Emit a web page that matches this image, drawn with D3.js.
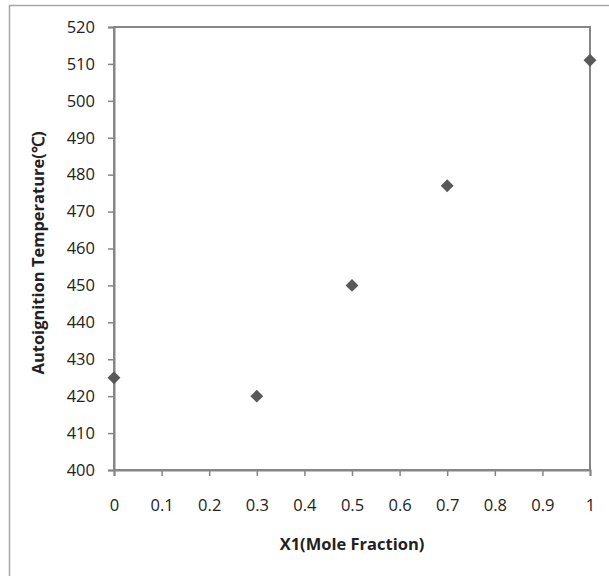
<!DOCTYPE html>
<html>
<head>
<meta charset="utf-8">
<script src="https://cdn.jsdelivr.net/npm/d3@7"></script>
<style>
body { margin: 0; background: #fff; }
text { font-family: "Open Sans", Lato, sans-serif; fill: #222; }
</style>
</head>
<body>
<div id="chart"></div>
<script>
var WIDTH = 609;
var HEIGHT = 576;

// data
var moleFraction = [0, 0.3, 0.5, 0.7, 1];
var autoTemp = [425, 420, 450, 477, 511];
var xTicks = [0, 0.1, 0.2, 0.3, 0.4, 0.5, 0.6, 0.7, 0.8, 0.9, 1];
var yTicks = [400, 410, 420, 430, 440, 450, 460, 470, 480, 490, 500, 510, 520];

var margin = {left: 114, right: 19, top: 27, bottom: 106};

var svg = d3.select("#chart").append("svg")
    .attr("width", WIDTH)
    .attr("height", HEIGHT);

// outer frame (right and bottom edges fall outside the picture)
svg.append("rect")
    .attr("x", 9.5).attr("y", 5.5)
    .attr("width", WIDTH + 20).attr("height", HEIGHT + 20)
    .attr("fill", "none")
    .attr("stroke", "#a6a6a6")
    .attr("stroke-width", 1.5);

var x = d3.scaleLinear().domain([0, 1]).range([margin.left, WIDTH - margin.right]);
var y = d3.scaleLinear().domain([400, 520]).range([HEIGHT - margin.bottom, margin.top]);

// plot area box
svg.append("rect")
    .attr("x", x(0)).attr("y", y(520))
    .attr("width", x(1) - x(0)).attr("height", y(400) - y(520))
    .attr("fill", "none")
    .attr("stroke", "#868686")
    .attr("stroke-width", 2);

var xAxis = svg.append("g")
    .attr("transform", "translate(0," + y(400) + ")")
    .call(d3.axisBottom(x).tickValues(xTicks).tickSize(6).tickPadding(23)
        .tickFormat(function(d) { return d3.format("")(d); }));

var yAxis = svg.append("g")
    .attr("transform", "translate(" + x(0) + ",0)")
    .call(d3.axisLeft(y).tickValues(yTicks).tickSize(6).tickPadding(13));

[xAxis, yAxis].forEach(function(a) {
    a.select(".domain").attr("stroke", "#868686").attr("stroke-width", 2);
    a.selectAll(".tick line").attr("stroke", "#868686").attr("stroke-width", 1.5);
    a.selectAll(".tick text")
        .style("font-family", "'Open Sans', Lato, sans-serif")
        .style("font-size", "16.5px")
        .attr("fill", "#222");
});

var points = moleFraction.map(function(d, i) { return {x: d, y: autoTemp[i]}; });

svg.append("g")
    .selectAll("path")
    .data(points)
    .enter().append("path")
    .attr("d", d3.symbol().type(d3.symbolDiamond2).size(105))
    .attr("transform", function(d) { return "translate(" + x(d.x) + "," + y(d.y) + ")"; })
    .attr("fill", "#595959");

svg.append("text")
    .attr("x", (x(0) + x(1)) / 2)
    .attr("y", 550)
    .attr("text-anchor", "middle")
    .style("font-size", "16.5px")
    .style("font-weight", "bold")
    .text("X1(Mole Fraction)");

svg.append("text")
    .attr("transform", "translate(44,253) rotate(-90)")
    .attr("text-anchor", "middle")
    .style("font-size", "16.5px")
    .style("font-weight", "bold")
    .text("Autoignition Temperature(℃)");
</script>
</body>
</html>
